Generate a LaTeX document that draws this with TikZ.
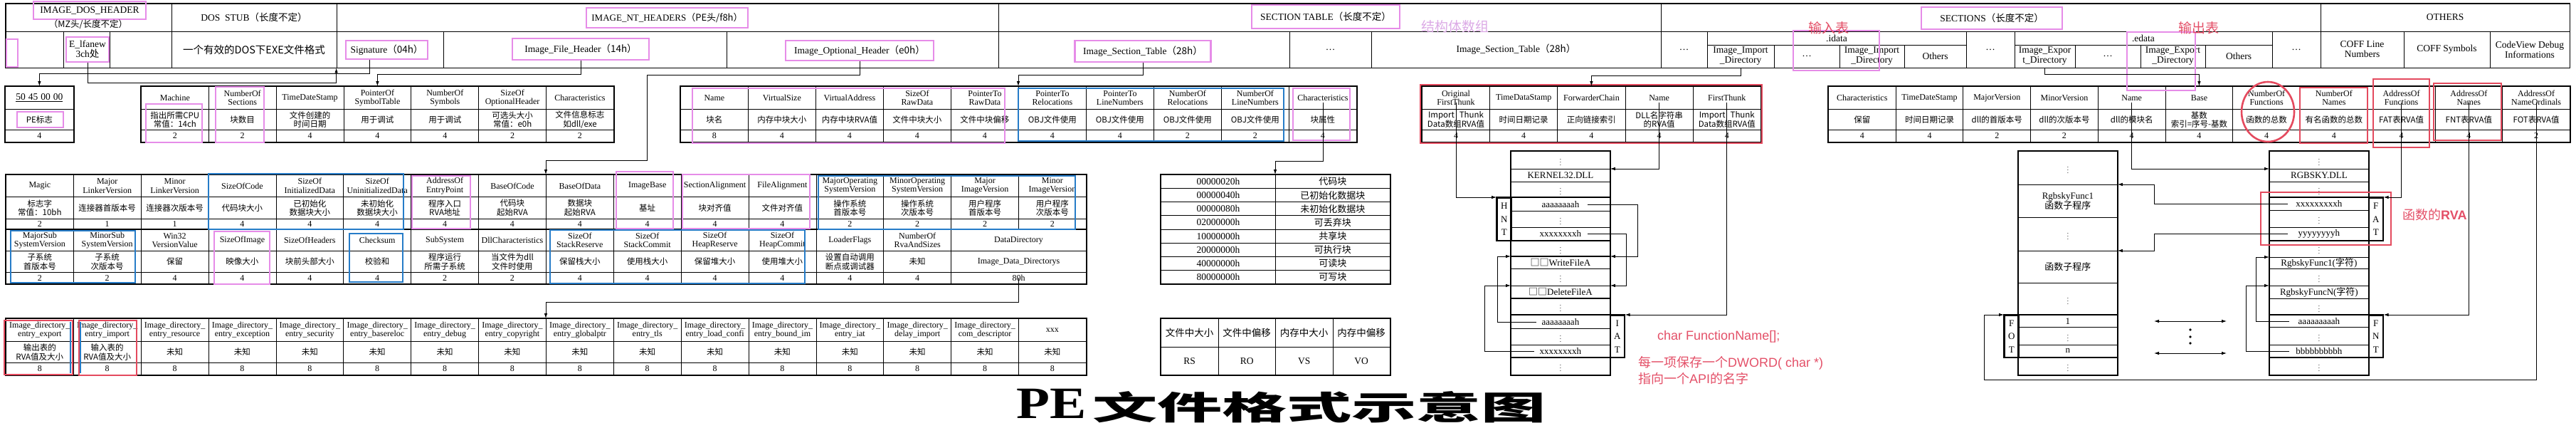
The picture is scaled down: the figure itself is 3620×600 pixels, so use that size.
\documentclass[tikz,border=0pt]{standalone}
\usepackage{fontspec}
\usepackage{graphicx}
\setmainfont{Liberation Serif}
\newfontfamily\zh{Noto Sans CJK SC}
\newfontfamily\arial{Liberation Sans}
\usetikzlibrary{arrows.meta,positioning}
\definecolor{hlviolet}{RGB}{230,140,232}
\definecolor{hlblue}{RGB}{38,124,200}
\definecolor{hlred}{RGB}{228,74,94}
\definecolor{notered}{RGB}{228,80,104}
\definecolor{notelilac}{RGB}{220,170,230}

\newcommand{\vd}{{\fontsize{9}{9}\selectfont$\vdots$}}

\tikzset{
  hcell/.style={draw, line width=0.8pt, anchor=north west, inner sep=0pt,
    align=center, font=\fontsize{12}{12.5}\selectfont},
  dcell/.style={hcell, font=\zh\fontsize{11.5}{12.5}\selectfont},
  scell/.style={hcell},
  bandcell/.style={draw, line width=0.8pt, inner sep=0pt, align=center,
    font=\fontsize{13.5}{14}\selectfont},
  hltitle/.style={draw=hlviolet, line width=2.6pt, inner sep=0pt, align=center,
    font=\fontsize{13.5}{14}\selectfont},
  flcell/.style={draw, line width=0.8pt, anchor=north west, inner sep=0pt,
    minimum width=161pt, minimum height=19.125pt, font=\fontsize{13.5}{14}\selectfont},
  rscell/.style={draw, line width=0.8pt, anchor=north west, inner sep=0pt,
    minimum width=80.5pt, font=\fontsize{13.5}{14}\selectfont},
  slot/.style={draw, line width=0.8pt, anchor=north west, inner sep=0pt,
    align=center, minimum width=139pt, font=\fontsize{13}{14}\selectfont},
  tag/.style={draw, line width=1.6pt, anchor=north west, inner sep=0pt,
    align=center, minimum width=20pt, font=\fontsize{13}{18.5}\selectfont},
  border/.style={line width=1.6pt},
  hlm/.style={draw=hlviolet, line width=2.6pt},
  hlb/.style={draw=hlblue, line width=2.6pt},
  hlr/.style={draw=hlred, line width=2.6pt},
  link/.style={line width=0.8pt, -{Latex[length=7pt,width=4.5pt]}},
  dlink/.style={line width=0.8pt, {Latex[length=7pt,width=4.5pt]}-{Latex[length=7pt,width=4.5pt]}},
  note/.style={inner sep=0pt, text=notered, font=\arial\fontsize{18}{18}\selectfont}
}

\newcommand{\fieldtable}[8]{%
  \pgfmathsetmacro\ftw{#4-4}%
  \foreach \fhd/\fds/\fsz [count=\i] in {#8} {
    \pgfmathsetmacro\fcx{#2+(\i-1)*#4}
    \node[hcell, minimum width=#4pt, minimum height=#5pt, text width=\ftw pt]
      (#1-\i-h) at (\fcx,#3) {\fhd};
    \node[dcell, minimum width=#4pt, minimum height=#6pt, text width=\ftw pt]
      (#1-\i-d) at (\fcx,{#3+#5}) {\fds};
    \node[scell, minimum width=#4pt, minimum height=#7pt, text width=\ftw pt]
      (#1-\i-s) at (\fcx,{#3+#5+#6}) {\fsz};
  }%
}

\begin{document}
\begin{tikzpicture}[x=1pt, y=-1pt]
\useasboundingbox (0,0) rectangle (3620,600);
\fill[white] (0,0) rectangle (3620,600);

\foreach \cname/\xa/\ya/\xb/\yb/\txt in {
  dosA/8/5/241/44/{}, dos1/8/44/89/95/{}, dos2/89/44/154/95/{}, dos3/154/44/241/95/{},
  stubA/241/5/473/44/{DOS\ \ STUB{\zh （长度不定）}},
  stubB/241/44/473/95/{{\zh\fontsize{14.5}{15}\selectfont 一个有效的DOS下EXE文件格式}},
  ntA/473/5/1403/44/{}, sig/473/44/623/95/{}, fhd/623/44/1021/95/{}, ohd/1021/44/1403/95/{},
  stA/1403/5/2334/44/{}, st1/1403/44/1812/95/{}, st2/1812/44/1927/95/{…},
  st3/1927/44/2334/95/{Image\_Section\_Table{\zh （28h）}},
  secA/2334/5/3261/44/{}, sx1/2334/44/2399/95/{…},
  idA/2399/44/2763/63/{.idata},
  id1/2399/63/2493/95/{Image\_Import\\\_Directory}, id2/2493/63/2585/95/{…},
  id3/2585/63/2676/95/{Image\_Import\\\_Directory}, id4/2676/63/2763/95/{Others},
  sx2/2763/44/2831/95/{…},
  edA/2831/44/3193/63/{.edata},
  ed1/2831/63/2916/95/{Image\_Expor\\t\_Directory}, ed2/2916/63/3008/95/{…},
  ed3/3008/63/3099/95/{Image\_Export\\\_Directory}, ed4/3099/63/3193/95/{Others},
  sx3/3193/44/3261/95/{…},
  othA/3261/5/3611/44/{OTHERS}, oth1/3261/44/3378/95/{COFF Line\\Numbers},
  oth2/3378/44/3499/95/{COFF Symbols}, oth3/3499/44/3611/95/{CodeView Debug\\Informations}} {
  \pgfmathsetmacro\bw{\xb-\xa}
  \pgfmathsetmacro\bh{\yb-\ya}
  \node[bandcell, minimum width=\bw pt, minimum height=\bh pt] (\cname) at ({(\xa+\xb)/2},{(\ya+\yb)/2}) {\txt};
}
\draw[border] (dosA.north west) rectangle (oth3.south east);

\node[hltitle, minimum width=158pt, minimum height=25pt] (dosttl) at (126,14.5) {IMAGE\_DOS\_HEADER};
\node[inner sep=0pt, font=\zh\fontsize{12.5}{13}\selectfont] (dosnote) at (124,34) {（MZ头/长度不定）};
\node[hltitle, minimum width=16pt, minimum height=39pt] (dosmark) at (17,74.5) {};
\node[hltitle, minimum width=60pt, minimum height=35pt] (elfanew) at (123,69.5) {E\_lfanew\\3ch{\zh 处}};
\node[hltitle, minimum width=115pt, minimum height=26pt] (sigbox) at (543.5,70) {Signature{\zh （04h）}};
\node[hltitle, minimum width=192pt, minimum height=30pt] (fhbox) at (816,69) {Image\_File\_Header{\zh （14h）}};
\node[hltitle, minimum width=208pt, minimum height=28pt] (ohbox) at (1208,71) {Image\_Optional\_Header{\zh （e0h）}};
\node[hltitle, minimum width=191pt, minimum height=30pt] (stbox) at (1606,72) {Image\_Section\_Table{\zh （28h）}};
\node[hltitle, minimum width=227pt, minimum height=28pt, font=\fontsize{13}{14}\selectfont] (ntttl) at (937.5,25) {IMAGE\_NT\_HEADERS{\zh （PE头/f8h）}};
\node[hltitle, minimum width=208pt, minimum height=33pt] (stttl) at (1863,23.5) {SECTION TABLE{\zh （长度不定）}};
\node[hltitle, minimum width=198pt, minimum height=31pt] (secttl) at (2799,25.5) {SECTIONS{\zh （长度不定）}};

\fieldtable{pe}{7}{121}{96}{32}{29}{17}{{{\fontsize{13.5}{14}\selectfont\underline{50 45 00 00}}/PE标志/4}}
\draw[border] (pe-1-h.north west) rectangle (pe-1-s.south east);

\fieldtable{fh}{198}{121}{94.86}{32}{29}{17}{
  Machine/{指出所需CPU\\常值：14ch}/2,
  {NumberOf\\Sections}/块数目/2,
  TimeDateStamp/{文件创建的\\时间日期}/4,
  {PointerOf\\SymbolTable}/用于调试/4,
  {NumberOf\\Symbols}/用于调试/4,
  {SizeOf\\OptionalHeader}/{可选头大小\\常值：e0h}/2,
  Characteristics/{文件信息标志\\如dll/exe}/2}
\draw[border] (fh-1-h.north west) rectangle (fh-7-s.south east);

\fieldtable{sh}{956}{121}{95}{32}{29}{17}{
  Name/块名/8, VirtualSize/内存中块大小/4, VirtualAddress/内存中块RVA值/4,
  {SizeOf\\RawData}/文件中块大小/4, {PointerTo\\RawData}/文件中块偏移/4,
  {PointerTo\\Relocations}/OBJ文件使用/4, {PointerTo\\LineNumbers}/OBJ文件使用/4,
  {NumberOf\\Relocations}/OBJ文件使用/2, {NumberOf\\LineNumbers}/OBJ文件使用/2,
  Characteristics/块属性/4}
\draw[border] (sh-1-h.north west) rectangle (sh-10-s.south east);

\fieldtable{oh}{8}{245}{94.875}{31}{31}{15}{
  Magic/{标志字\\常值：10bh}/2,
  {Major\\LinkerVersion}/连接器首版本号/1,
  {Minor\\LinkerVersion}/连接器次版本号/1,
  SizeOfCode/代码块大小/4,
  {SizeOf\\InitializedData}/{已初始化\\数据块大小}/4,
  {SizeOf\\UninitializedData}/{未初始化\\数据块大小}/4,
  {AddressOf\\EntryPoint}/{程序入口\\RVA地址}/4,
  BaseOfCode/{代码块\\起始RVA}/4,
  BaseOfData/{数据块\\起始RVA}/4,
  ImageBase/基址/4,
  SectionAlignment/块对齐值/4,
  FileAlignment/文件对齐值/4,
  {MajorOperating\\SystemVersion}/{操作系统\\首版本号}/2,
  {MinorOperating\\SystemVersion}/{操作系统\\次版本号}/2,
  {Major\\ImageVersion}/{用户程序\\首版本号}/2,
  {Minor\\ImageVersion}/{用户程序\\次版本号}/2}

\fieldtable{ob}{8}{322}{94.875}{30}{30}{16}{
  {MajorSub\\SystemVersion}/{子系统\\首版本号}/2,
  {MinorSub\\SystemVersion}/{子系统\\次版本号}/2,
  {Win32\\VersionValue}/保留/4,
  SizeOfImage/映像大小/4,
  SizeOfHeaders/块前头部大小/4,
  Checksum/校验和/4,
  SubSystem/{程序运行\\所需子系统}/2,
  DllCharacteristics/{当文件为dll\\文件时使用}/2,
  {SizeOf\\StackReserve}/保留栈大小/4,
  {SizeOf\\StackCommit}/使用栈大小/4,
  {SizeOf\\HeapReserve}/保留堆大小/4,
  {SizeOf\\HeapCommit}/使用堆大小/4,
  LoaderFlags/{设置自动调用\\断点或调试器}/4,
  {NumberOf\\RvaAndSizes}/未知/4}
\node[hcell, minimum width=189.75pt, minimum height=30pt] (ob-15-h) at (1336.25,322) {DataDirectory};
\node[hcell, minimum width=189.75pt, minimum height=30pt] (ob-15-d) at (1336.25,352) {Image\_Data\_Directorys};
\node[hcell, minimum width=189.75pt, minimum height=16pt] (ob-15-s) at (1336.25,382) {80h};
\draw[border] (oh-1-h.north west) rectangle (ob-15-s.south east);
\draw[border] (ob-1-h.north west) -- (ob-15-h.north east);

\fieldtable{dd}{8}{447}{94.875}{32}{30}{17}{
  {Image\_directory\_\\entry\_export}/{输出表的\\RVA值及大小}/8,
  {Image\_directory\_\\entry\_import}/{输入表的\\RVA值及大小}/8,
  {Image\_directory\_\\entry\_resource}/未知/8,
  {Image\_directory\_\\entry\_exception}/未知/8,
  {Image\_directory\_\\entry\_security}/未知/8,
  {Image\_directory\_\\entry\_basereloc}/未知/8,
  {Image\_directory\_\\entry\_debug}/未知/8,
  {Image\_directory\_\\entry\_copyright}/未知/8,
  {Image\_directory\_\\entry\_globalptr}/未知/8,
  {Image\_directory\_\\entry\_tls}/未知/8,
  {Image\_directory\_\\entry\_load\_confi}/未知/8,
  {Image\_directory\_\\entry\_bound\_im}/未知/8,
  {Image\_directory\_\\entry\_iat}/未知/8,
  {Image\_directory\_\\delay\_import}/未知/8,
  {Image\_directory\_\\com\_descriptor}/未知/8,
  xxx/未知/8}
\draw[border] (dd-1-h.north west) rectangle (dd-16-s.south east);

\foreach \hx/\zt [count=\i] in {00000020h/代码块, 00000040h/已初始化数据块, 00000080h/未初始化数据块,
  02000000h/可丢弃块, 10000000h/共享块, 20000000h/可执行块, 40000000h/可读块, 80000000h/可写块} {
  \pgfmathsetmacro\ry{245+(\i-1)*19.125}
  \node[flcell] (fl-\i-a) at (1631,\ry) {\hx};
  \node[flcell, font=\zh\fontsize{13}{13}\selectfont] (fl-\i-b) at (1792,\ry) {\zt};
}
\draw[border] (fl-1-a.north west) rectangle (fl-8-b.south east);

\foreach \ta/\tb [count=\i] in {文件中大小/RS, 文件中偏移/RO, 内存中大小/VS, 内存中偏移/VO} {
  \pgfmathsetmacro\rx{1631+(\i-1)*80.5}
  \node[rscell, minimum height=40pt, font=\zh\fontsize{13.5}{14}\selectfont] (rs-\i-a) at (\rx,447) {\ta};
  \node[rscell, minimum height=39pt] (rs-\i-b) at (\rx,487) {\tb};
}
\draw[border] (rs-1-a.north west) rectangle (rs-4-b.south east);

\fieldtable{it}{1998}{121}{95.2}{32}{29}{17}{
  {Original\\FirstThunk}/{Import\hspace{0.6em}Thunk\\Data数组RVA值}/4,
  TimeDataStamp/时间日期记录/4,
  ForwarderChain/正向链接索引/4,
  Name/{DLL名字符串\\的RVA值}/4,
  FirstThunk/{Import\hspace{0.6em}Thunk\\Data数组RVA值}/4}
\draw[border] (it-1-h.north west) rectangle (it-5-s.south east);

\fieldtable{et}{2569}{121}{94.73}{32}{29}{17}{
  Characteristics/保留/4, TimeDateStamp/时间日期记录/4,
  MajorVersion/dll的首版本号/2, MinorVersion/dll的次版本号/2,
  Name/dll的模块名/4, Base/{基数\\索引=序号-基数}/4,
  {NumberOf\\Functions}/函数的总数/4, {NumberOf\\Names}/有名函数的总数/4,
  {AddressOf\\Functions}/FAT表RVA值/4, {AddressOf\\Names}/FNT表RVA值/4,
  {AddressOf\\NameOrdinals}/FOT表RVA值/2}
\draw[border] (et-1-h.north west) rectangle (et-11-s.south east);

\foreach \ya/\yb/\txt [count=\k] in {212/237/\vd, 237/255/KERNEL32.DLL, 255/277/\vd,
  277/296/aaaaaaaah, 296/319/\vd, 319/337/xxxxxxxxh, 337/360/\vd,
  360/377/{{\zh □□}WriteFileA}, 377/401/\vd, 401/418/{{\zh □□}DeleteFileA}, 418/442/\vd,
  442/461/aaaaaaaah, 461/484/\vd, 484/501/xxxxxxxxh, 501/526/\vd} {
  \pgfmathsetmacro\slh{\yb-\ya}
  \node[slot, minimum height=\slh pt] (imp-\k) at (2123,\ya) {\txt};
}
\node[tag, minimum height=60pt] (hnt) at (2103,277) {H\\N\\T};
\node[tag, minimum height=59pt] (iat) at (2262,442) {I\\A\\T};
\draw[border] (imp-1.north west) rectangle (imp-15.south east);
\draw[border] (hnt.north west) rectangle (imp-6.south east);
\draw[border] (imp-12.north west) rectangle (iat.south east);
\draw[border] (imp-8.north west) -- (imp-8.north east);
\draw[border] (imp-10.south west) -- (imp-10.south east);

\foreach \ya/\yb/\txt [count=\k] in {212/259/\vd, 259/305/{RgbskyFunc1\\{\zh 函数子程序}},
  305/352/\vd, 352/397/{{\zh 函数子程序}}, 397/442/\vd, 442/459/1, 459/484/\vd,
  484/501/n, 501/526/\vd} {
  \pgfmathsetmacro\slh{\yb-\ya}
  \node[slot, minimum height=\slh pt] (fn-\k) at (2836,\ya) {\txt};
}
\node[tag, minimum height=59pt] (fot) at (2816,442) {F\\O\\T};
\draw[border] (fn-1.north west) rectangle (fn-9.south east);
\draw[border] (fot.north west) rectangle (fn-8.south east);

\foreach \ya/\yb/\txt [count=\k] in {212/237/\vd, 237/255/RGBSKY.DLL, 255/277/\vd,
  277/295/xxxxxxxxxh, 295/319/\vd, 319/337/yyyyyyyyh, 337/361/\vd,
  361/377/{RgbskyFunc1({\zh 字符})}, 377/401/\vd, 401/419/{RgbskyFuncN({\zh 字符})}, 419/442/\vd,
  442/459/aaaaaaaaah, 459/484/\vd, 484/501/bbbbbbbbbh, 501/526/\vd} {
  \pgfmathsetmacro\slh{\yb-\ya}
  \node[slot, minimum height=\slh pt] (rgb-\k) at (3189,\ya) {\txt};
}
\node[tag, minimum height=60pt] (fat) at (3328,277) {F\\A\\T};
\node[tag, minimum height=59pt] (fnt) at (3328,442) {F\\N\\T};
\draw[border] (rgb-1.north west) rectangle (rgb-15.south east);
\draw[border] (rgb-4.north west) rectangle (fat.south east);
\draw[border] (rgb-12.north west) rectangle (fnt.south east);

\foreach \xa/\ya/\xb/\yb in {24/157/89/179, 205/146/284/200, 303/122/371/200,
  973/124/1412/201, 1817/124/1897/197, 579/247/661/321, 866/241/946/321,
  959/245/1138/321, 301/325/379/399, 2520/43/2641/99, 2989/45/3085/127}
  \draw[hlm] (\xa,\ya) rectangle (\xb,\yb);
\foreach \xa/\ya/\xb/\yb in {1431/124/1804/198, 293/244/567/322, 1150/247/1511/322,
  15/324/190/397, 491/328/566/396, 773/323/1131/398}
  \draw[hlb] (\xa,\ya) rectangle (\xb,\yb);
\draw[hlb] (99,452) -- (99,524);
\draw[hlb] (113,452) -- (113,524);
\foreach \xa/\ya/\xb/\yb in {6/450/102/526, 111/450/192/527, 3232/123/3327/201,
  3335/111/3414/207, 3420/117/3515/197, 3177/270/3360/344, 1996/119/2476/201}
  \draw[hlr] (\xa,\ya) rectangle (\xb,\yb);
\draw[hlr] (3187,157) ellipse [x radius=37pt, y radius=42pt];

\node[inner sep=0pt, text=notelilac, font=\zh\fontsize{19}{19}\selectfont] (arraynote) at (2045,37) {结构体数组};
\node[inner sep=0pt, text=notered, font=\zh\fontsize{19}{19}\selectfont] (importnote) at (2570,39) {输入表};
\node[inner sep=0pt, text=notered, font=\zh\fontsize{19}{19}\selectfont] (exportnote) at (3090,39) {输出表};
\node[note, anchor=west] (fnname) at (2329,473) {char FunctionName[];};
\node[note, anchor=west] (fnline1) at (2302,510) {{\zh 每一项保存一个}DWORD( char *)};
\node[note, anchor=west] (fnline2) at (2302,532) {{\zh 指向一个}API{\zh 的名字}};
\node[note, anchor=west] (rvanote) at (3376,302) {{\zh 函数的}\textbf{RVA}};

\draw[link] (elfanew.south) -- ++(0,28) -| (sig.south west);
\draw[link] ([xshift=-24pt]sigbox.south) -- ++(0,19) -| (pe-1-h.north);
\draw[link] (fhbox.south) -- ++(0,19) -| (fh-4-h.north);
\draw[link] (ohbox.south) -- ++(0,19) -- ++(-299,0) -- ++(0,120) -| (oh-9-h.north west);
\draw[link] (stbox.south) -- ++(0,17) -| (sh-6-h.north west);
\draw[link] ([yshift=-7pt]sh-10-h.center) -- ++(0,82) -| (fl-1-b.north west);
\draw[link] (ob-15-s.center) -- ++(0,34) -| (dd-9-h.north west);
\draw[link] (id1.south) -- ++(0,11) -| (it-3-h.north);
\draw[link] (ed1.south) -- ++(0,9) -| (et-6-h.north);

\draw[link] ([yshift=-7pt]it-1-h.center) |- (hnt.north west);
\draw[link] ([yshift=-7pt]it-4-h.center) |- (imp-2.north east);
\draw[link] ([yshift=-7pt]it-5-h.center) |- (iat.north east);
\draw[link] ([xshift=38pt]imp-4.center) -- ++(70,0) |- (imp-8.north east);
\draw[link] ([xshift=38pt]imp-6.center) -- ++(54,0) |- (imp-10.north east);
\draw[link] ([xshift=-34pt]imp-12.center) -- ++(-55,0) |- (imp-8.north west);
\draw[link] ([xshift=-37pt]imp-14.center) -- ++(-70,0) |- (imp-10.north west);

\draw[link] ([yshift=-7pt]et-5-h.center) |- (rgb-2.north west);
\draw[link] ([yshift=-7pt]et-9-h.center) |- (fat.north east);
\draw[link] ([yshift=-7pt]et-10-h.center) |- (fnt.north east);
\draw[link] ([yshift=-7pt]et-11-h.center) -- ++(0,389) -| ([xshift=-28pt]fot.north west) -- (fot.north west);
\draw[link] ([xshift=-44pt]rgb-4.center) -- ++(-188,0) |- (fn-2.north east);
\draw[link] ([xshift=-44pt]rgb-6.center) -- ++(-188,0) |- (fn-4.north east);
\draw[link] ([xshift=-42pt]rgb-12.center) -- ++(-47,0) |- (rgb-8.north west);
\draw[link] ([xshift=-42pt]rgb-14.center) -- ++(-61,0) |- (rgb-10.north west);

\coordinate (lg1a) at (3027,451);
\coordinate (lg1b) at (3129,451);
\coordinate (lg2a) at (3027,496);
\coordinate (lg2b) at (3129,496);
\draw[dlink] (lg1a) -- (lg1b);
\draw[dlink] (lg2a) -- (lg2b);
\foreach \dy in {463,473,482}
  \fill (3078,\dy) circle (1.8pt);

\node[anchor=base west, inner sep=0pt, font=\bfseries\fontsize{63}{63}\selectfont] (ttlpe) at (1428,587) {\scalebox{1.22}[1]{PE}};
\node[anchor=base west, inner sep=0pt, font=\zh\bfseries\fontsize{46}{46}\selectfont] (ttlzh) at (1535,589) {\scalebox{1.98}[1]{文件格式示意图}};
\end{tikzpicture}
\end{document}
